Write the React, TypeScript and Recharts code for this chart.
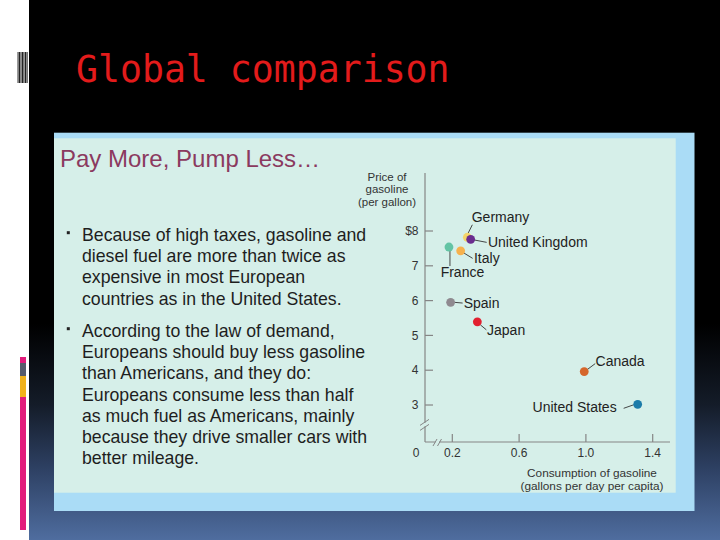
import React from 'react';
import { ScatterChart, Scatter, XAxis, YAxis } from 'recharts';

// ---- data ----
const countries = ['Germany', 'United Kingdom', 'France', 'Italy', 'Spain', 'Japan', 'Canada', 'United States'];
const consumption = [0.29, 0.31, 0.18, 0.25, 0.19, 0.35, 0.99, 1.31];
const price = [7.82, 7.76, 7.54, 7.43, 5.95, 5.39, 3.96, 3.02];
const xTicks = [0.2, 0.6, 1.0, 1.4];
const xTickLabels = ['0.2', '0.6', '1.0', '1.4'];
const yTicks = [3, 4, 5, 6, 7, 8];
const yTickLabels = ['3', '4', '5', '6', '7', '$8'];
const originLabel = '0';
const yAxisTitle = ['Price of', 'gasoline', '(per gallon)'];
const xAxisTitle = ['Consumption of gasoline', '(gallons per day per capita)'];
const slideTitle = 'Global comparison';
const panelTitle = 'Pay More, Pump Less\u2026';
const bullet1 = [
  'Because of high taxes, gasoline and',
  'diesel fuel are more than twice as',
  'expensive in most European',
  'countries as in the United States.',
];
const bullet2 = [
  'According to the law of demand,',
  'Europeans should buy less gasoline',
  'than Americans, and they do:',
  'Europeans consume less than half',
  'as much fuel as Americans, mainly',
  'because they drive smaller cars with',
  'better mileage.',
];

// ---- styles ----
const dotColors = ['#f4d56a', '#6a2c8e', '#63c4a4', '#f6b14d', '#8f8a90', '#e2202f', '#d5662b', '#1c7ba9'];
const X_DOMAIN: [number, number] = [0.0365, 1.5036];
const Y_DOMAIN: [number, number] = [1.937, 9.667];
const Y_BREAK = 2.4;
const AXIS = '#858585';
const MINT = '#d6efe9';
const FONT = 'Liberation Sans, Arial, Helvetica, sans-serif';

const labelLayout: Record<string, { dx: number; dy: number; anchor: 'start' | 'end'; leader: number[] }> = {
  'Germany': { dx: 4.4, dy: -15.3, anchor: 'start', leader: [0.5, -3.5, 5, -12.5] },
  'United Kingdom': { dx: 17.3, dy: 7.5, anchor: 'start', leader: [3, 0.5, 16, 3] },
  'France': { dx: -8.3, dy: 29.5, anchor: 'start', leader: [1, 3.5, 1, 19] },
  'Italy': { dx: 13.3, dy: 12, anchor: 'start', leader: [3, 2, 12, 7.5] },
  'Spain': { dx: 13, dy: 5.7, anchor: 'start', leader: [4, 0, 12, 0.7] },
  'Japan': { dx: 9.7, dy: 13.3, anchor: 'start', leader: [3, 3, 9, 8] },
  'Canada': { dx: 11.3, dy: -5.7, anchor: 'start', leader: [3, -2, 11, -8] },
  'United States': { dx: -21, dy: 7.7, anchor: 'end', leader: [-4, 0.5, -14, 4] },
};

const points = countries.map((name, i) => ({ name, x: consumption[i], y: price[i] }));

const DotShape = (props: any) => {
  const { cx, cy, payload } = props;
  if (cx == null || cy == null || !payload) return null;
  const i = countries.indexOf(payload.name);
  const lay = labelLayout[payload.name];
  return (
    <g>
      <line x1={cx + lay.leader[0]} y1={cy + lay.leader[1]} x2={cx + lay.leader[2]} y2={cy + lay.leader[3]} stroke="#333" strokeWidth={0.9} />
      <circle cx={cx} cy={cy} r={4.4} fill={dotColors[i]} />
      <text x={cx + lay.dx} y={cy + lay.dy} textAnchor={lay.anchor} fontFamily={FONT} fontSize={14} fill="#222">
        {payload.name}
      </text>
    </g>
  );
};

const XTick = (props: any) => {
  const { x, y, payload } = props;
  const v = payload.value;
  if (Math.abs(v - X_DOMAIN[0]) < 1e-6) {
    return (
      <g>
        <rect x={x + 10.5} y={y - 2} width={3.5} height={4} fill={MINT} />
        <line x1={x + 8} y1={y + 4} x2={x + 12} y2={y - 3} stroke={AXIS} strokeWidth={1} />
        <line x1={x + 12.5} y1={y + 4} x2={x + 16.5} y2={y - 3} stroke={AXIS} strokeWidth={1} />
        <text x={x - 9} y={y + 14.5} textAnchor="middle" fontFamily={FONT} fontSize={12} fill="#333">{originLabel}</text>
      </g>
    );
  }
  const idx = xTicks.findIndex((t) => Math.abs(t - v) < 1e-6);
  return (
    <g>
      <line x1={x} y1={y} x2={x} y2={y - 8} stroke={AXIS} strokeWidth={1.2} />
      <text x={x} y={y + 14.5} textAnchor="middle" fontFamily={FONT} fontSize={12} fill="#333">{xTickLabels[idx]}</text>
    </g>
  );
};

const YTick = (props: any) => {
  const { x, y, payload } = props;
  const v = payload.value;
  if (Math.abs(v - Y_BREAK) < 1e-6) {
    return (
      <g>
        <rect x={x - 2} y={y - 3.2} width={4} height={3.6} fill={MINT} />
        <line x1={x - 5} y1={y - 0.5} x2={x + 4} y2={y - 6.5} stroke={AXIS} strokeWidth={1} />
        <line x1={x - 5} y1={y + 4.5} x2={x + 4} y2={y - 1.5} stroke={AXIS} strokeWidth={1} />
      </g>
    );
  }
  const idx = yTicks.findIndex((t) => Math.abs(t - v) < 1e-6);
  return (
    <g>
      <line x1={x} y1={y} x2={x + 8} y2={y} stroke={AXIS} strokeWidth={1.2} />
      <text x={x - 6.5} y={y + 4.2} textAnchor="end" fontFamily={FONT} fontSize={12} fill="#333">{yTickLabels[idx]}</text>
    </g>
  );
};

const YTitle = (props: any) => {
  const vb = props.viewBox || {};
  const cx = vb.x + vb.width;
  return (
    <g>
      {yAxisTitle.map((t, i) => (
        <text key={i} x={cx - 38} y={vb.y + 8 + i * 12.4} textAnchor="middle" fontFamily={FONT} fontSize={11.5} fill="#333">{t}</text>
      ))}
    </g>
  );
};

const XTitle = (props: any) => {
  const vb = props.viewBox || {};
  return (
    <g>
      {xAxisTitle.map((t, i) => (
        <text key={i} x={vb.x + vb.width / 2 + 44.5} y={vb.y + 34.5 + i * 13} textAnchor="middle" fontFamily={FONT} fontSize={11.8} fill="#333">{t}</text>
      ))}
    </g>
  );
};

export default function App() {
  const b1Top = 241;
  const b2Top = 337;
  const lh = 21.2;
  return (
    <div style={{ position: 'absolute', left: 0, top: 0, width: 720, height: 540, overflow: 'hidden' }}>
      <svg width={720} height={540} style={{ position: 'absolute', left: 0, top: 0 }}>
        <defs>
          <linearGradient id="slidebg" x1="0" y1="0" x2="0" y2="1">
            <stop offset="0" stopColor="#000" />
            <stop offset="0.6" stopColor="#000" />
            <stop offset="0.75" stopColor="#141c29" />
            <stop offset="0.87" stopColor="#2e4164" />
            <stop offset="1" stopColor="#4f6d9f" />
          </linearGradient>
        </defs>
        <rect x={0} y={0} width={720} height={540} fill="#fff" />
        <rect x={29} y={0} width={691} height={540} fill="url(#slidebg)" />
        {/* left decorations */}
        <rect x={17} y={52} width={11} height={31} fill="#222" />
        <rect x={17} y={52} width={1.8} height={31} fill="#9a9a9a" />
        <rect x={20} y={52} width={2} height={31} fill="#8a8a8a" />
        <rect x={23.3} y={52} width={1.6} height={31} fill="#a0a0a0" />
        <rect x={26} y={52} width={1.8} height={31} fill="#8a8a8a" />
        <rect x={20} y={357} width={6} height={6} fill="#e21c7c" />
        <rect x={20} y={363} width={6} height={13} fill="#575c6c" />
        <rect x={20} y={376} width={6} height={21} fill="#f1b21c" />
        <rect x={20} y={397} width={6} height={133} fill="#e21c7c" />
        {/* title */}
        <text x={76} y={82} fontFamily="DejaVu Sans Mono, monospace" fontSize={36.5} fill="#e31b1b">{slideTitle}</text>
        {/* panel */}
        <rect x={54} y={132.7} width={640.5} height={378.3} fill="#aadcf6" />
        <rect x={54} y={138.3} width={621.7} height={354.4} fill={MINT} />
        <text x={60} y={167.3} fontFamily={FONT} fontSize={24} fill="#8b3a5f">{panelTitle}</text>
        <rect x={66.8} y={b1Top - 9.8} width={3} height={3} fill="#222" />
        {bullet1.map((t, i) => (
          <text key={'a' + i} x={82} y={b1Top + i * lh} fontFamily={FONT} fontSize={17.7} fill="#1e1e1e">{t}</text>
        ))}
        <rect x={66.8} y={b2Top - 9.8} width={3} height={3} fill="#222" />
        {bullet2.map((t, i) => (
          <text key={'b' + i} x={82} y={b2Top + i * lh} fontFamily={FONT} fontSize={17.7} fill="#1e1e1e">{t}</text>
        ))}
      </svg>
      <div style={{ position: 'absolute', left: 340, top: 160 }}>
        <ScatterChart width={340} height={340} margin={{ top: 13, right: 10, bottom: 18, left: 45 }}>
          <XAxis
            type="number"
            dataKey="x"
            domain={X_DOMAIN}
            allowDataOverflow
            ticks={[X_DOMAIN[0], ...xTicks]}
            interval={0}
            height={40}
            tickSize={0}
            tickMargin={0}
            tickLine={false}
            axisLine={{ stroke: AXIS, strokeWidth: 1.2 }}
            tick={XTick}
            label={XTitle}
          />
          <YAxis
            type="number"
            dataKey="y"
            domain={Y_DOMAIN}
            allowDataOverflow
            ticks={[Y_BREAK, ...yTicks]}
            interval={0}
            width={40}
            tickSize={0}
            tickMargin={0}
            tickLine={false}
            axisLine={{ stroke: AXIS, strokeWidth: 1.2 }}
            tick={YTick}
            label={YTitle}
          />
          <Scatter data={points} shape={DotShape} isAnimationActive={false} />
        </ScatterChart>
      </div>
    </div>
  );
}
